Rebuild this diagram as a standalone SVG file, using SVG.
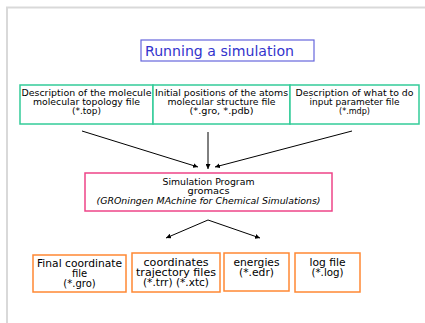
<svg xmlns="http://www.w3.org/2000/svg" width="425" height="323" viewBox="0 0 425 323">
<defs>
<marker id="ah" viewBox="0 0 10 10" refX="10" refY="5" markerWidth="5" markerHeight="5" orient="auto" markerUnits="userSpaceOnUse">
<path d="M0,0 L10,5 L0,10 z" fill="#000"/>
</marker>
<style>
.t{font-family:"DejaVu Sans",sans-serif;font-size:10px;fill:#000;text-anchor:middle}
.s{font-size:9px}
.in{stroke:#33cc99;stroke-width:1.5;fill:#fff}
.sim{stroke:#ee4488;stroke-width:1.5;fill:#fff}
.out{stroke:#ff8833;stroke-width:1.5;fill:#fff}
.c{stroke:#000;stroke-width:1;fill:none}
</style>
</defs>
<rect width="425" height="323" fill="#fff"/>
<path d="M7,323 V7.5 H425" fill="none" stroke="#d9d9d9" stroke-width="2"/>
<g id="title">
<rect x="141" y="40" width="173" height="21" fill="#fff" stroke="#6666dd" stroke-width="1.2"/>
<text x="145" y="56" font-family="DejaVu Sans, sans-serif" font-size="14.5" fill="#3333cc" textLength="149" lengthAdjust="spacingAndGlyphs">Running a simulation</text>
</g>
<g id="topology">
<rect class="in" x="20" y="85" width="133" height="39"/>
<text class="t s" x="86.5" y="96" textLength="130" lengthAdjust="spacingAndGlyphs">Description of the molecule</text>
<text class="t s" x="86.5" y="105" textLength="107" lengthAdjust="spacingAndGlyphs">molecular topology file</text>
<text class="t s" x="86.5" y="114" textLength="29" lengthAdjust="spacingAndGlyphs">(*.top)</text>
</g>
<g id="structure">
<rect class="in" x="153" y="85" width="137" height="39"/>
<text class="t s" x="221.5" y="96" textLength="133" lengthAdjust="spacingAndGlyphs">Initial positions of the atoms</text>
<text class="t s" x="221.5" y="105" textLength="108" lengthAdjust="spacingAndGlyphs">molecular structure file</text>
<text class="t s" x="221.5" y="114" textLength="64" lengthAdjust="spacingAndGlyphs">(*.gro, *.pdb)</text>
</g>
<g id="params">
<rect class="in" x="290" y="85" width="129" height="39"/>
<text class="t s" x="354.5" y="96" textLength="118" lengthAdjust="spacingAndGlyphs">Description of what to do</text>
<text class="t s" x="354.5" y="105" textLength="90" lengthAdjust="spacingAndGlyphs">input parameter file</text>
<text class="t s" x="354.5" y="114" textLength="31" lengthAdjust="spacingAndGlyphs">(*.mdp)</text>
</g>
<g id="simulation">
<rect class="sim" x="85" y="173" width="247" height="38"/>
<text class="t s" x="208.5" y="185" textLength="92" lengthAdjust="spacingAndGlyphs">Simulation Program</text>
<text class="t s" x="208.5" y="194" textLength="42" lengthAdjust="spacingAndGlyphs">gromacs</text>
<text class="t s" x="208.5" y="204" font-style="italic" textLength="224" lengthAdjust="spacingAndGlyphs">(GROningen MAchine for Chemical Simulations)</text>
</g>
<g id="final">
<rect class="out" x="33" y="255" width="93" height="37"/>
<text class="t" x="79.5" y="267" textLength="85" lengthAdjust="spacingAndGlyphs">Final coordinate</text>
<text class="t" x="79.5" y="277">file</text>
<text class="t" x="79.5" y="287">(*.gro)</text>
</g>
<g id="trajectory">
<rect class="out" x="132" y="253" width="88" height="39"/>
<text class="t" x="176" y="266" textLength="65" lengthAdjust="spacingAndGlyphs">coordinates</text>
<text class="t" x="176" y="276" textLength="80" lengthAdjust="spacingAndGlyphs">trajectory files</text>
<text class="t" x="176" y="286" textLength="66" lengthAdjust="spacingAndGlyphs">(*.trr) (*.xtc)</text>
</g>
<g id="energies">
<rect class="out" x="224" y="253" width="65" height="38"/>
<text class="t" x="256.5" y="266" textLength="46" lengthAdjust="spacingAndGlyphs">energies</text>
<text class="t" x="256.5" y="276" textLength="35" lengthAdjust="spacingAndGlyphs">(*.edr)</text>
</g>
<g id="log">
<rect class="out" x="295" y="253" width="65" height="39"/>
<text class="t" x="327.5" y="266" textLength="36" lengthAdjust="spacingAndGlyphs">log file</text>
<text class="t" x="327.5" y="276" textLength="32" lengthAdjust="spacingAndGlyphs">(*.log)</text>
</g>
<g id="connectors">
<line class="c" x1="82" y1="131" x2="198" y2="167" marker-end="url(#ah)"/>
<line class="c" x1="208" y1="132" x2="208" y2="169" marker-end="url(#ah)"/>
<line class="c" x1="352" y1="131" x2="215" y2="167" marker-end="url(#ah)"/>
<polyline class="c" points="208,220 260,238" marker-end="url(#ah)"/>
<polyline class="c" points="208,220 166,238" marker-end="url(#ah)"/>
</g>
</svg>
